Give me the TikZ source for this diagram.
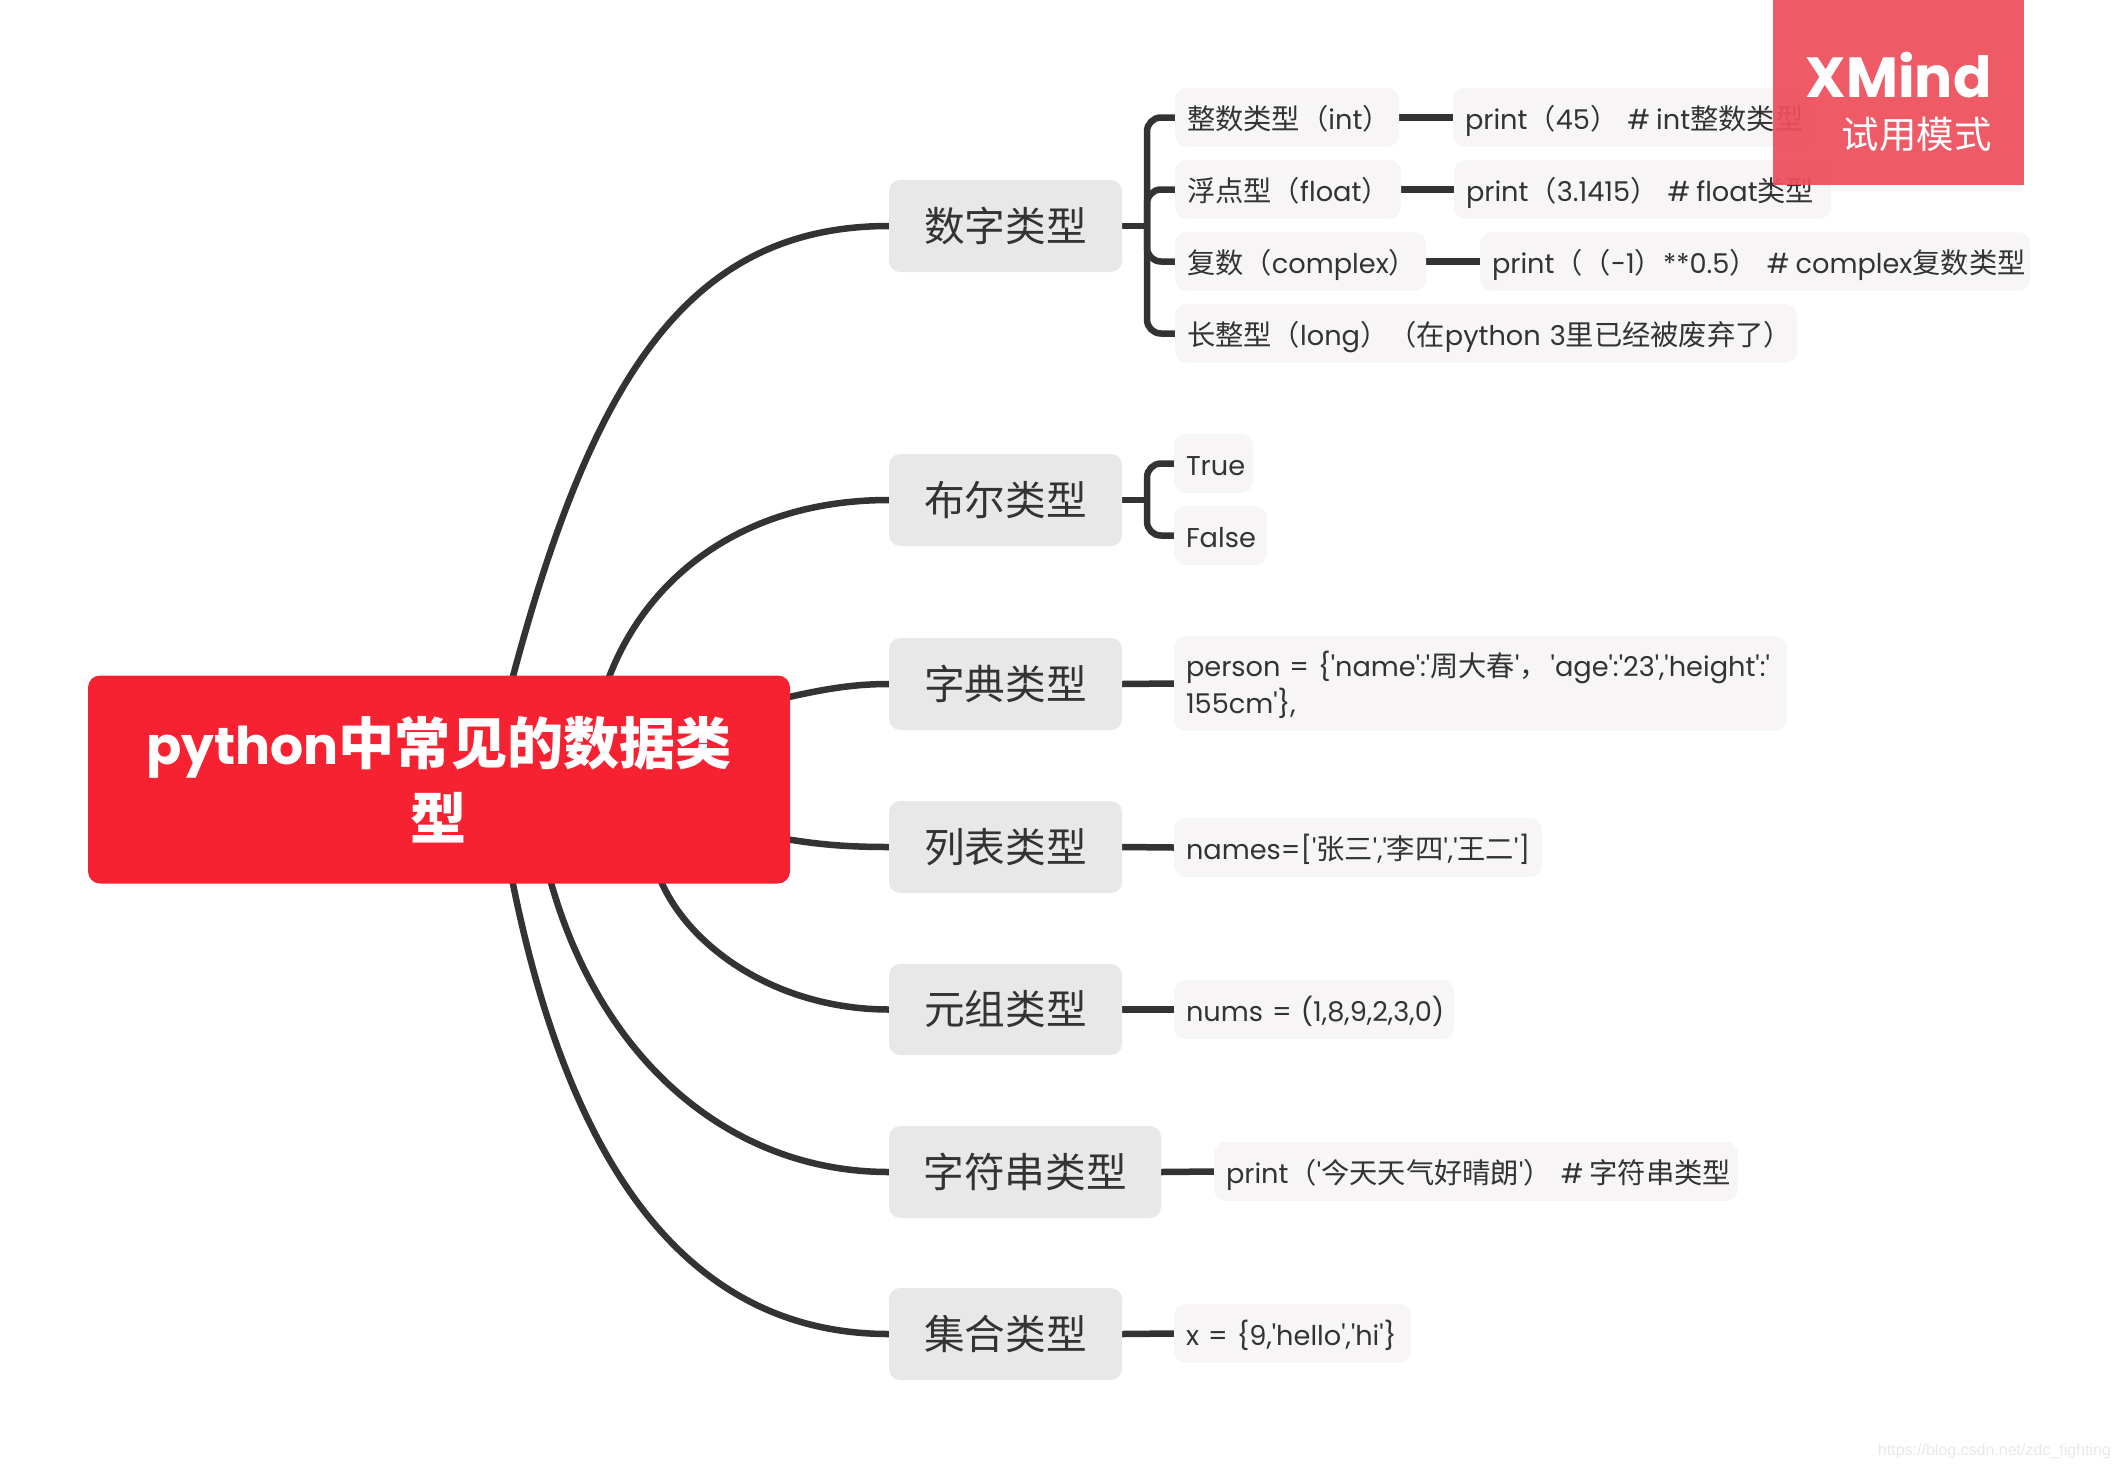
\documentclass[tikz,border=0pt]{standalone}
\usepackage{fontspec}
\usetikzlibrary{backgrounds}
\newfontfamily\latfont{Poppins}
\newfontfamily\cjk[Scale=1.04]{Noto Sans CJK SC}
\newfontfamily\wmfont{Liberation Sans}
\newcommand{\C}[1]{{\cjk #1}}
\newcommand{\lineopen}{\hspace*{12pt}\rule[-8pt]{0pt}{40pt}}
\newcommand{\twolineopen}{\hspace*{12pt}\rule[-6pt]{0pt}{35pt}}
\newcommand{\hash}{\#\hspace{6pt}}
\definecolor{ink}{HTML}{333333}
\definecolor{topicfill}{HTML}{E8E8E8}
\definecolor{subfill}{HTML}{F7F5F6}
\definecolor{rootfill}{HTML}{F72231}
\definecolor{markfill}{HTML}{EE4E5B}
\tikzset{
  x=1pt,y=-1pt,
  every node/.style={font=\latfont,text=ink,inner sep=0pt,outer sep=0pt},
  conn/.style={draw=ink,line width=6.5pt},
  rootbox/.style={fill=rootfill,rounded corners=12pt,text=white,align=center,
    font=\latfont\bfseries\fontsize{52}{75}\selectfont},
  topicbox/.style={fill=topicfill,rounded corners=11pt,
    font=\cjk\fontsize{39.1}{48}\selectfont},
  subbox/.style={fill=subfill,rounded corners=12pt,align=left,
    font=\latfont\fontsize{27.2}{35}\selectfont},
  markbox/.style={fill=markfill,fill opacity=.93,text opacity=1,text=white,align=right}
}
% name, x1, y1, x2, y2, text
\newcommand{\subn}[6]{%
  \pgfmathsetmacro{\mywd}{#4-#2}\pgfmathsetmacro{\myht}{#5-#3}%
  \node[subbox,minimum width=\mywd pt,minimum height=\myht pt,text width=\mywd pt] (#1) at ({(#2+#4)/2},{(#3+#5)/2}) {\lineopen #6};}
\newcommand{\topn}[6]{%
  \pgfmathsetmacro{\mywd}{#4-#2}\pgfmathsetmacro{\myht}{#5-#3}%
  \node[topicbox,minimum width=\mywd pt,minimum height=\myht pt] (#1) at ({(#2+#4)/2},{(#3+#5)/2}) {#6};}
\begin{document}
\begin{tikzpicture}
\useasboundingbox (0,0) rectangle (2119,1467);
\node[rootbox,minimum width=702pt,minimum height=208pt] (root) at (439,779.5)
  {python{\fontsize{54}{75}\selectfont\C{中常见的数据类}}\\{\fontsize{54}{75}\selectfont\C{型}}};

\topn{t1}{889}{180}{1122}{272}{数字类型}
\topn{t2}{889}{454}{1122}{546}{布尔类型}
\topn{t3}{889}{638}{1122}{730}{字典类型}
\topn{t4}{889}{801}{1122}{893}{列表类型}
\topn{t5}{889}{964}{1122}{1055}{元组类型}
\topn{t6}{889}{1126}{1161}{1218}{字符串类型}
\topn{t7}{889}{1288}{1122}{1380}{集合类型}

\subn{a1}{1175}{88}{1399}{147}{\C{整数类型（}int\C{）}}
\subn{a1v}{1453}{88}{1812}{147}{print\C{（}45\C{）} \hash int\C{整数类型}}
\subn{a2}{1175}{160}{1401}{219}{\C{浮点型（}float\C{）}}
\subn{a2v}{1454}{160}{1831}{219}{print\C{（}3.1415\C{）} \hash float\C{类型}}
\subn{a3}{1175}{232}{1426}{291}{\C{复数（}complex\C{）}}
\subn{a3v}{1480}{232}{2030}{291}{print\C{（（}-1\C{）}**0.5\C{）} \hash complex\C{复数类型}}
\subn{a4}{1175}{304}{1797}{363}{\C{长整型（}long\C{）（在}python 3\C{里已经被废弃了）}}
\subn{b1}{1174}{434}{1253}{493}{True}
\subn{b2}{1174}{506}{1267}{565}{False}
\node[subbox,minimum width=613pt,minimum height=95pt,text width=613pt] (c1) at (1480.5,683.5)
  {\twolineopen person = \{'name':'\C{周大春}'\C{，}\hspace{3pt}'age':'23','height':'\\\twolineopen 155cm'\},};
\subn{d1}{1174}{818}{1542}{877}{names=['\C{张三}','\C{李四}','\C{王二}']}
\subn{e1}{1174}{980}{1454}{1039}{nums = (1,8,9,2,3,0)}
\subn{f1}{1214}{1142}{1738}{1201}{print\C{（}'\C{今天天气好晴朗}'\C{）} \hash \C{字符串类型}}
\subn{g1}{1174}{1304}{1411}{1363}{x = \{9,'hello','hi'\}}

\coordinate (j1) at (1147,226);
\coordinate (j2) at (1147,500);
\begin{scope}[on background layer]
  \coordinate (r1) at (512,680);
  \coordinate (r2) at (608,680);
  \coordinate (r3) at (780,699);
  \coordinate (r4) at (780,838);
  \coordinate (r5) at (660,879);
  \coordinate (r6) at (550,879);
  \coordinate (r7) at (512,879);
  \draw[conn] (r1) .. controls (593,375) and (690,226) .. (t1.west);
  \draw[conn] (r2) .. controls (645,580) and (740,500) .. (t2.west);
  \draw[conn] (r3) .. controls (820,690) and (850,684) .. (t3.west);
  \draw[conn] (r4) .. controls (820,845) and (850,847) .. (t4.west);
  \draw[conn] (r5) .. controls (690,950) and (780,1009.5) .. (t5.west);
  \draw[conn] (r6) .. controls (600,1060) and (730,1172) .. (t6.west);
  \draw[conn] (r7) .. controls (570,1170) and (690,1334) .. (t7.west);

  \draw[conn] (t1.east) -- (j1);
  \draw[conn,rounded corners=14pt] (j1) |- (a1.west);
  \draw[conn,rounded corners=14pt] (j1) |- (a2.west);
  \draw[conn,rounded corners=14pt] (j1) |- (a3.west);
  \draw[conn,rounded corners=14pt] (j1) |- (a4.west);
  \draw[conn] (a1.east) -- (a1v.west);
  \draw[conn] (a2.east) -- (a2v.west);
  \draw[conn] (a3.east) -- (a3v.west);

  \draw[conn] (t2.east) -- (j2);
  \draw[conn,rounded corners=14pt] (j2) |- (b1.west);
  \draw[conn,rounded corners=14pt] (j2) |- (b2.west);

  \draw[conn] (t3.east) -- (c1.west);
  \draw[conn] (t4.east) -- (d1.west);
  \draw[conn] (t5.east) -- (e1.west);
  \draw[conn] (t6.east) -- (f1.west);
  \draw[conn] (t7.east) -- (g1.west);
\end{scope}

\node[markbox,minimum width=251pt,minimum height=185pt,text width=186pt] (mark) at (1898.5,92.5) {\bfseries\fontsize{56.6}{57}\selectfont\raisebox{0pt}[40pt][0pt]{XMind}\\\mdseries\fontsize{36}{57}\selectfont\cjk \raisebox{-20pt}[30pt][0pt]{试用模式}};

\node[anchor=east,text=black!9,font=\wmfont\fontsize{16}{19}\selectfont] (wm) at (2111,1451) {https://blog.csdn.net/zdc\_fighting};
\end{tikzpicture}
\end{document}
